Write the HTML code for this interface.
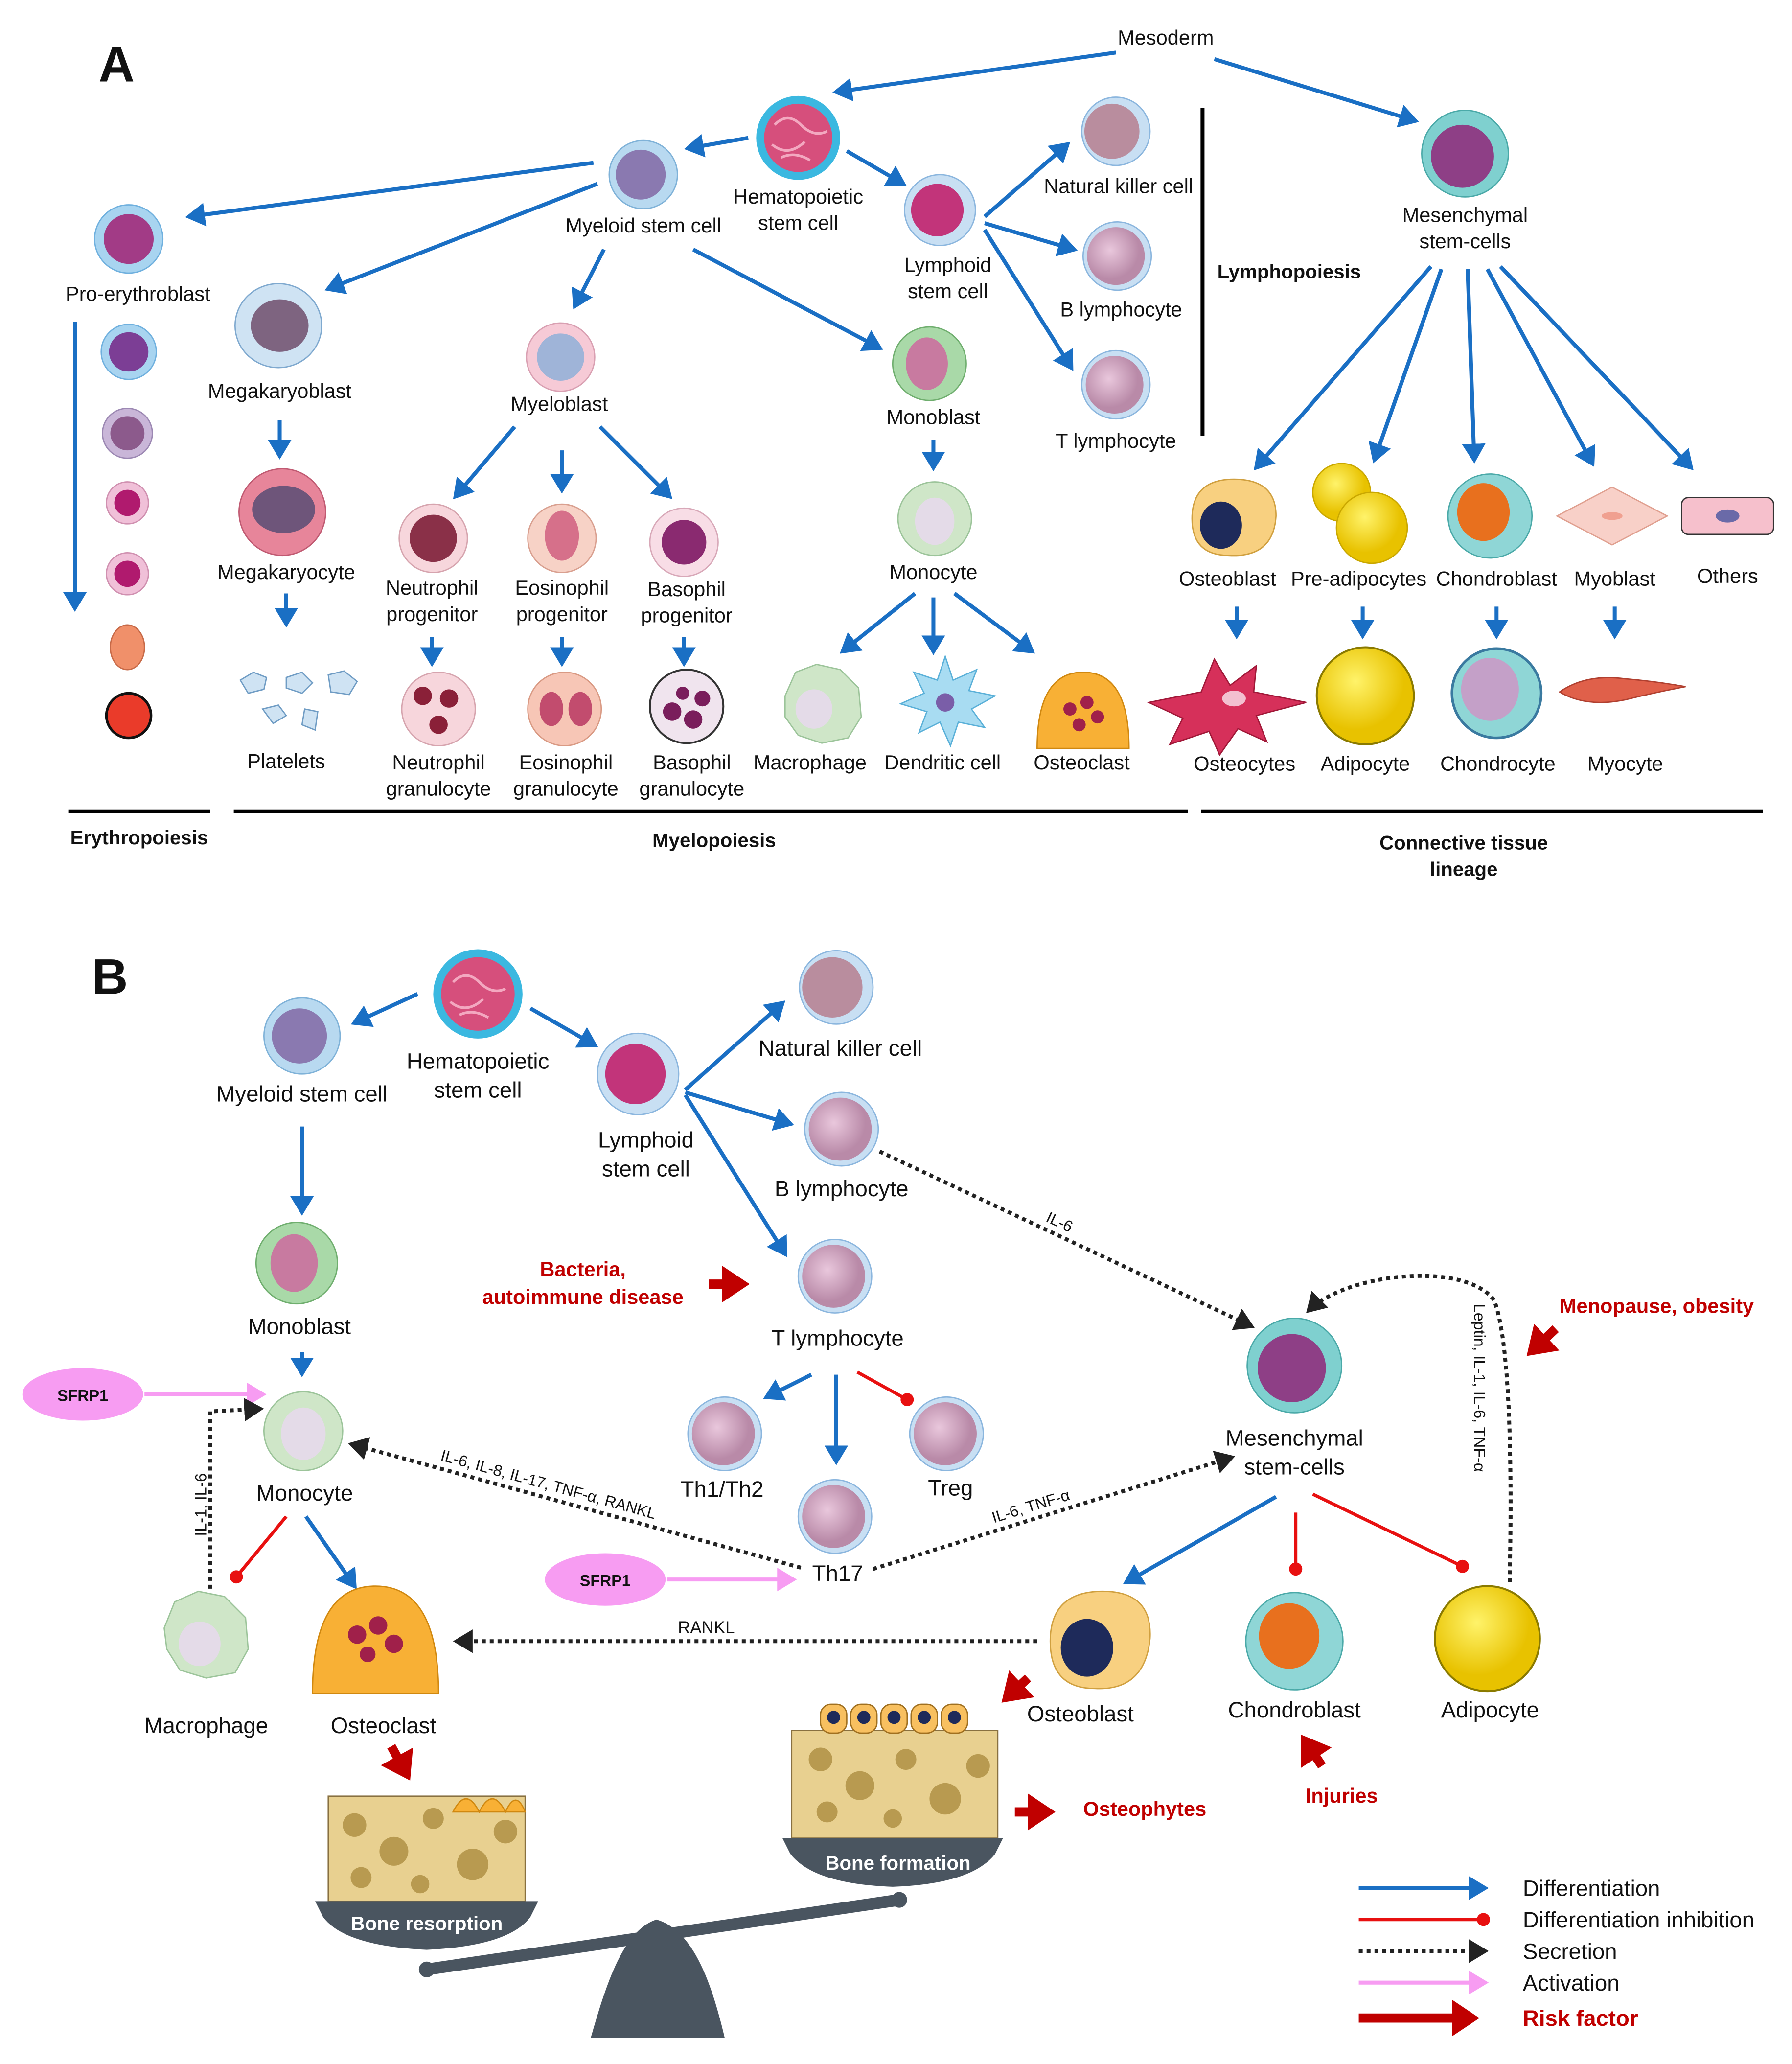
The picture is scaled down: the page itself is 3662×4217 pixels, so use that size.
<!DOCTYPE html>
<html><head><meta charset="utf-8"><style>
html,body{margin:0;padding:0;background:#fff;}
svg{display:block;}
text{font-family:"Liberation Sans",sans-serif;fill:#111;}
.l{font-size:15.5px;text-anchor:middle;}
.lb{font-size:17px;text-anchor:middle;}
.b{font-weight:bold;font-size:15px;text-anchor:middle;}
.r{font-weight:bold;font-size:15.5px;fill:#c00000;text-anchor:middle;}
.s{font-size:12px;}
.bl{stroke:#1a6fc4;stroke-width:3;fill:none;marker-end:url(#ab);}
.rd{stroke:#e81010;stroke-width:2.5;fill:none;marker-end:url(#ar);}
.dt{stroke:#222;stroke-width:3;stroke-dasharray:3 3;fill:none;marker-end:url(#ak);}
.pk{stroke:#f79cf2;stroke-width:3;fill:none;marker-end:url(#ap);}
.rk{stroke:#c00000;stroke-width:7;fill:none;marker-end:url(#ax);}
</style></head><body>
<svg width="3662" height="4217" viewBox="0 0 1365 1572" xmlns="http://www.w3.org/2000/svg">
<defs>
<marker id="ab" markerWidth="6" markerHeight="6" refX="4" refY="3" orient="auto" markerUnits="strokeWidth"><path d="M0,0 L5,3 L0,6z" fill="#1a6fc4"/></marker>
<marker id="ar" markerWidth="5" markerHeight="5" refX="2.5" refY="2.5" orient="auto" markerUnits="strokeWidth"><circle cx="2.5" cy="2.5" r="2" fill="#e81010"/></marker>
<marker id="ak" markerWidth="6" markerHeight="6" refX="4" refY="3" orient="auto" markerUnits="strokeWidth"><path d="M0,0 L5,3 L0,6z" fill="#222"/></marker>
<marker id="ap" markerWidth="6" markerHeight="6" refX="4" refY="3" orient="auto" markerUnits="strokeWidth"><path d="M0,0 L5,3 L0,6z" fill="#f79cf2"/></marker>
<marker id="ax" markerWidth="4" markerHeight="4" refX="2" refY="2" orient="auto" markerUnits="strokeWidth"><path d="M0,0 L3,2 L0,4z" fill="#c00000"/></marker>
<radialGradient id="gp" cx="40%" cy="40%"><stop offset="0" stop-color="#e9c7dc"/><stop offset="1" stop-color="#b98aa8"/></radialGradient>
<radialGradient id="gy" cx="40%" cy="35%"><stop offset="0" stop-color="#fff36a"/><stop offset="1" stop-color="#e8c200"/></radialGradient>
</defs>

<!-- ===== Panel A ===== -->
<text x="75" y="62" style="font-size:38px;font-weight:bold">A</text>
<text class="l" x="888" y="34">Mesoderm</text>
<path class="bl" d="M850,40 L637,70"/>
<path class="bl" d="M925,45 L1078,92"/>

<circle cx="608" cy="105" r="32" fill="#3bb8e0"/><circle cx="608" cy="105" r="26" fill="#d64f7c"/><path d="M590,95 q10,-10 20,0 t20,5 M588,110 q12,10 25,-2 M595,120 q10,-5 22,2" stroke="#f3a8c0" stroke-width="2" fill="none"/>
<text class="l" x="608" y="155">Hematopoietic</text><text class="l" x="608" y="175">stem cell</text>
<path class="bl" d="M570,105 L524,113"/><path class="bl" d="M645,115 L688,140"/>

<circle cx="490" cy="133" r="26" fill="#b8d9f0" stroke="#7fb2d8"/><circle cx="488" cy="133" r="19" fill="#8a79b0"/>
<text class="l" x="490" y="177">Myeloid stem cell</text>
<circle cx="716" cy="160" r="27" fill="#c8dff3" stroke="#8bb6de"/><circle cx="714" cy="160" r="20" fill="#c2347a"/>
<text class="l" x="722" y="207">Lymphoid</text><text class="l" x="722" y="227">stem cell</text>
<path class="bl" d="M750,165 L813,110"/><path class="bl" d="M750,170 L818,190"/><path class="bl" d="M750,175 L816,280"/>
<circle cx="850" cy="100" r="26" fill="#c8dff3" stroke="#8bb6de"/><circle cx="847" cy="100" r="21" fill="#b98d9e"/>
<text class="l" x="852" y="147">Natural killer cell</text>
<circle cx="851" cy="195" r="26" fill="#c8dff3" stroke="#8bb6de"/><circle cx="850" cy="195" r="22" fill="url(#gp)"/>
<text class="l" x="854" y="241">B lymphocyte</text>
<circle cx="850" cy="293" r="26" fill="#c8dff3" stroke="#8bb6de"/><circle cx="849" cy="293" r="22" fill="url(#gp)"/>
<text class="l" x="850" y="341">T lymphocyte</text>
<line x1="916" y1="82" x2="916" y2="332" stroke="#000" stroke-width="3"/>
<text class="b" x="982" y="212">Lymphopoiesis</text>

<circle cx="1116" cy="117" r="33" fill="#7fd0cf" stroke="#4aa9a8"/><circle cx="1114" cy="119" r="24" fill="#8e3f86"/>
<text class="l" x="1116" y="169">Mesenchymal</text><text class="l" x="1116" y="189">stem-cells</text>

<path class="bl" d="M452,124 L144,165"/><path class="bl" d="M455,140 L250,220"/><path class="bl" d="M460,190 L438,233"/><path class="bl" d="M528,190 L670,265"/>

<circle cx="98" cy="182" r="26" fill="#a8d4f0" stroke="#6fb0de"/><circle cx="98" cy="182" r="19" fill="#a23b86"/>
<text class="l" x="105" y="229">Pro-erythroblast</text>
<path class="bl" d="M57,245 L57,463"/>
<circle cx="98" cy="268" r="21" fill="#a8d4f0" stroke="#6fb0de"/><circle cx="98" cy="268" r="15" fill="#7c3e95"/>
<circle cx="97" cy="330" r="19" fill="#c9b6d8" stroke="#9c88b3"/><circle cx="97" cy="330" r="13" fill="#8c5a8c"/>
<circle cx="97" cy="383" r="16" fill="#f0c0d8" stroke="#d090b0"/><circle cx="97" cy="383" r="10" fill="#b01a6e"/>
<circle cx="97" cy="437" r="16" fill="#f0c0d8" stroke="#d090b0"/><circle cx="97" cy="437" r="10" fill="#b01a6e"/>
<ellipse cx="97" cy="493" rx="13" ry="17" fill="#f0906a" stroke="#c76a48"/>
<ellipse cx="98" cy="545" rx="17" ry="17" fill="#ea3b2a" stroke="#111" stroke-width="2"/>

<ellipse cx="212" cy="248" rx="33" ry="32" fill="#cfe3f3" stroke="#7fa9cf"/><ellipse cx="213" cy="248" rx="22" ry="20" fill="#7e6480"/>
<text class="l" x="213" y="303">Megakaryoblast</text>
<path class="bl" d="M213,320 L213,347"/>
<circle cx="215" cy="390" r="33" fill="#e7859a" stroke="#c05a72"/><ellipse cx="216" cy="388" rx="24" ry="18" fill="#6e557a"/>
<text class="l" x="218" y="441">Megakaryocyte</text>
<path class="bl" d="M218,452 L218,475"/>
<g fill="#cfe3f3" stroke="#6f9cc4"><path d="M183,518 l10,-6 10,4 -2,9 -12,3z"/><path d="M218,516 l12,-4 8,8 -8,8 -12,-4z"/><path d="M250,514 l12,-3 10,8 -6,10 -14,-2z"/><path d="M200,540 l12,-3 6,8 -10,6z"/><path d="M232,540 l10,2 -2,14 -10,-4z"/></g>
<text class="l" x="218" y="585">Platelets</text>

<circle cx="427" cy="272" r="26" fill="#f6cad6" stroke="#d9a0b2"/><circle cx="427" cy="272" r="18" fill="#9fb4d8"/>
<text class="l" x="426" y="313">Myeloblast</text>
<path class="bl" d="M392,325 L347,378"/><path class="bl" d="M428,343 L428,373"/><path class="bl" d="M457,325 L510,378"/>
<circle cx="330" cy="410" r="26" fill="#f7d6dc" stroke="#d6a4ae"/><circle cx="330" cy="410" r="18" fill="#8a3048"/>
<text class="l" x="329" y="453">Neutrophil</text><text class="l" x="329" y="473">progenitor</text>
<circle cx="428" cy="410" r="26" fill="#f7d2c6" stroke="#d9a090"/><ellipse cx="428" cy="408" rx="13" ry="19" fill="#d6708a"/>
<text class="l" x="428" y="453">Eosinophil</text><text class="l" x="428" y="473">progenitor</text>
<circle cx="521" cy="413" r="26" fill="#f8dde6" stroke="#d8a8b8"/><circle cx="521" cy="413" r="17" fill="#8a2a70"/>
<text class="l" x="523" y="454">Basophil</text><text class="l" x="523" y="474">progenitor</text>
<path class="bl" d="M329,485 L329,505"/><path class="bl" d="M428,485 L428,505"/><path class="bl" d="M521,485 L521,505"/>
<circle cx="334" cy="540" r="28" fill="#f7d6dc" stroke="#d6a4ae"/><g fill="#8a2038"><circle cx="322" cy="530" r="7"/><circle cx="342" cy="532" r="7"/><circle cx="334" cy="552" r="7"/></g>
<text class="l" x="334" y="586">Neutrophil</text><text class="l" x="334" y="606">granulocyte</text>
<circle cx="430" cy="540" r="28" fill="#f7c6b6" stroke="#d99a84"/><ellipse cx="420" cy="540" rx="9" ry="13" fill="#c24c6e"/><ellipse cx="442" cy="540" rx="9" ry="13" fill="#c24c6e"/>
<text class="l" x="431" y="586">Eosinophil</text><text class="l" x="431" y="606">granulocyte</text>
<circle cx="523" cy="538" r="28" fill="#f0e4ee" stroke="#333" stroke-width="1.5"/><g fill="#7a1e5c"><circle cx="512" cy="542" r="7"/><circle cx="528" cy="548" r="7"/><circle cx="535" cy="532" r="6"/><circle cx="520" cy="528" r="5"/></g>
<text class="l" x="527" y="586">Basophil</text><text class="l" x="527" y="606">granulocyte</text>

<circle cx="708" cy="277" r="28" fill="#a9d9a8" stroke="#6fae6e"/><ellipse cx="706" cy="277" rx="16" ry="20" fill="#c87aa0"/>
<text class="l" x="711" y="323">Monoblast</text>
<path class="bl" d="M711,335 L711,356"/>
<circle cx="712" cy="395" r="28" fill="#cfe6c8" stroke="#9cc49a"/><ellipse cx="712" cy="397" rx="15" ry="18" fill="#e4dbe8"/>
<text class="l" x="711" y="441">Monocyte</text>
<path class="bl" d="M697,452 L642,496"/><path class="bl" d="M711,455 L711,496"/><path class="bl" d="M727,452 L786,496"/>
<path d="M598,530 l8,-18 16,-6 18,4 14,14 2,22 -10,16 -20,4 -18,-6 -10,-14z" fill="#cfe6c8" stroke="#9cc49a"/><ellipse cx="620" cy="540" rx="14" ry="15" fill="#e4dbe8"/>
<text class="l" x="617" y="586">Macrophage</text>
<path d="M720,500 l6,18 18,-8 -6,16 20,4 -18,10 10,14 -20,-4 -6,18 -8,-18 -16,8 6,-16 -20,-6 18,-8 -8,-16 18,6z" fill="#a8dcf2" stroke="#5ab0d8"/><circle cx="720" cy="535" r="7" fill="#7a5ea8"/>
<text class="l" x="718" y="586">Dendritic cell</text>
<path d="M790,570 q0,-58 35,-58 q35,0 35,58z" fill="#f8b035" stroke="#d08810"/><g fill="#a0204a"><circle cx="815" cy="540" r="5"/><circle cx="828" cy="535" r="5"/><circle cx="836" cy="546" r="5"/><circle cx="822" cy="552" r="5"/></g>
<text class="l" x="824" y="586">Osteoclast</text>

<path class="bl" d="M1090,203 L957,356"/><path class="bl" d="M1098,205 L1047,350"/><path class="bl" d="M1118,205 L1123,350"/><path class="bl" d="M1133,205 L1213,353"/><path class="bl" d="M1143,203 L1288,356"/>
<path d="M908,395 q0,-30 32,-30 q32,0 32,28 q-2,32 -36,30 q-28,0 -28,-28z" fill="#f8d080" stroke="#d0a040"/><ellipse cx="930" cy="400" rx="16" ry="18" fill="#1e2a5a"/>
<text class="l" x="935" y="446">Osteoblast</text>
<circle cx="1022" cy="375" r="22" fill="url(#gy)" stroke="#c9a700"/><circle cx="1045" cy="402" r="27" fill="url(#gy)" stroke="#c9a700"/>
<text class="l" x="1035" y="446">Pre-adipocytes</text>
<circle cx="1135" cy="393" r="32" fill="#8fd6d6" stroke="#4aa9a8"/><ellipse cx="1130" cy="390" rx="20" ry="22" fill="#e8701e"/>
<text class="l" x="1140" y="446">Chondroblast</text>
<path d="M1186,393 l42,-22 42,22 -42,22z" fill="#f8d0c8" stroke="#e0a090"/><ellipse cx="1228" cy="393" rx="8" ry="3" fill="#f0a090"/>
<text class="l" x="1230" y="446">Myoblast</text>
<rect x="1281" y="379" width="70" height="28" rx="5" fill="#f6c0cc" stroke="#333"/><ellipse cx="1316" cy="393" rx="9" ry="5" fill="#6a6aa8"/>
<text class="l" x="1316" y="444">Others</text>
<path class="bl" d="M942,462 L942,484"/><path class="bl" d="M1038,462 L1038,484"/><path class="bl" d="M1140,462 L1140,484"/><path class="bl" d="M1230,462 L1230,484"/>
<path d="M875,535 l40,-8 10,-25 12,20 20,-15 -2,20 40,8 -38,10 8,20 -22,-10 -14,20 -8,-18 -30,10 10,-20z" fill="#d6305a" stroke="#a01838"/><ellipse cx="940" cy="532" rx="9" ry="6" fill="#f3c0d0"/>
<text class="l" x="948" y="587">Osteocytes</text>
<circle cx="1040" cy="530" r="37" fill="url(#gy)" stroke="#8a7a00" stroke-width="1.5"/>
<text class="l" x="1040" y="587">Adipocyte</text>
<circle cx="1140" cy="528" r="34" fill="#8fd6d6" stroke="#3a7aa0" stroke-width="2"/><ellipse cx="1135" cy="525" rx="22" ry="24" fill="#c4a0c8"/>
<text class="l" x="1141" y="587">Chondrocyte</text>
<path d="M1188,527 q20,-14 50,-10 q24,2 46,6 q-22,4 -46,10 q-30,6 -50,-6z" fill="#e0604a" stroke="#b04030"/>
<text class="l" x="1238" y="587">Myocyte</text>

<line x1="52" y1="618" x2="160" y2="618" stroke="#000" stroke-width="3"/>
<line x1="178" y1="618" x2="905" y2="618" stroke="#000" stroke-width="3"/>
<line x1="915" y1="618" x2="1343" y2="618" stroke="#000" stroke-width="3"/>
<text class="b" x="106" y="643">Erythropoiesis</text>
<text class="b" x="544" y="645">Myelopoiesis</text>
<text class="b" x="1115" y="647">Connective tissue</text><text class="b" x="1115" y="667">lineage</text>

<!-- ===== Panel B ===== -->
<text x="70" y="757" style="font-size:38px;font-weight:bold">B</text>
<circle cx="364" cy="757" r="34" fill="#3bb8e0"/><circle cx="364" cy="757" r="28" fill="#d64f7c"/><path d="M345,748 q10,-10 20,0 t20,5 M343,763 q12,10 25,-2 M350,773 q10,-5 22,2" stroke="#f3a8c0" stroke-width="2" fill="none"/>
<text class="lb" x="364" y="814">Hematopoietic</text><text class="lb" x="364" y="836">stem cell</text>
<circle cx="230" cy="789" r="29" fill="#b8d9f0" stroke="#7fb2d8"/><circle cx="228" cy="789" r="21" fill="#8a79b0"/>
<text class="lb" x="230" y="839">Myeloid stem cell</text>
<path class="bl" d="M318,757 L270,779"/><path class="bl" d="M404,768 L453,796"/>
<circle cx="486" cy="818" r="31" fill="#c8dff3" stroke="#8bb6de"/><circle cx="484" cy="818" r="23" fill="#c2347a"/>
<text class="lb" x="492" y="874">Lymphoid</text><text class="lb" x="492" y="896">stem cell</text>
<path class="bl" d="M522,830 L596,764"/><path class="bl" d="M522,832 L602,856"/><path class="bl" d="M522,834 L598,955"/>
<circle cx="637" cy="752" r="28" fill="#c8dff3" stroke="#8bb6de"/><circle cx="634" cy="752" r="23" fill="#b98d9e"/>
<text class="lb" x="640" y="804">Natural killer cell</text>
<circle cx="641" cy="860" r="28" fill="#c8dff3" stroke="#8bb6de"/><circle cx="640" cy="860" r="24" fill="url(#gp)"/>
<text class="lb" x="641" y="911">B lymphocyte</text>
<circle cx="636" cy="972" r="28" fill="#c8dff3" stroke="#8bb6de"/><circle cx="635" cy="972" r="24" fill="url(#gp)"/>
<text class="lb" x="638" y="1025">T lymphocyte</text>

<path class="bl" d="M230,858 L230,923"/>
<circle cx="226" cy="962" r="31" fill="#a9d9a8" stroke="#6fae6e"/><ellipse cx="224" cy="962" rx="18" ry="22" fill="#c87aa0"/>
<text class="lb" x="228" y="1016">Monoblast</text>
<path class="bl" d="M230,1030 L230,1046"/>
<circle cx="231" cy="1090" r="30" fill="#cfe6c8" stroke="#9cc49a"/><ellipse cx="231" cy="1092" rx="17" ry="20" fill="#e4dbe8"/>
<text class="lb" x="232" y="1143">Monocyte</text>
<ellipse cx="63" cy="1062" rx="46" ry="20" fill="#f79cf2"/><text x="63" y="1067" style="font-size:12px;font-weight:bold;text-anchor:middle">SFRP1</text>
<path class="pk" d="M110,1062 L200,1062"/>
<path class="rd" d="M218,1155 L180,1201"/><path class="bl" d="M233,1155 L270,1208"/>
<path d="M125,1240 l8,-20 18,-8 20,4 16,16 2,24 -10,18 -22,4 -20,-6 -10,-16z" fill="#cfe6c8" stroke="#9cc49a"/><ellipse cx="152" cy="1252" rx="16" ry="17" fill="#e4dbe8"/>
<text class="lb" x="157" y="1320">Macrophage</text>
<path d="M238,1290 q0,-82 48,-82 q48,0 48,82z" fill="#f8b035" stroke="#d08810"/><g fill="#a0204a"><circle cx="272" cy="1245" r="7"/><circle cx="288" cy="1238" r="7"/><circle cx="300" cy="1252" r="7"/><circle cx="280" cy="1260" r="6"/></g>
<text class="lb" x="292" y="1320">Osteoclast</text>
<path class="dt" d="M160,1210 L160,1075 L198,1073"/>
<text class="s" transform="translate(157,1170) rotate(-90)">IL-1, IL-6</text>

<path class="bl" d="M618,1047 L584,1064"/><path class="bl" d="M637,1047 L637,1113"/><path class="rd" d="M653,1045 L691,1066"/>
<circle cx="552" cy="1092" r="28" fill="#c8dff3" stroke="#8bb6de"/><circle cx="551" cy="1092" r="24" fill="url(#gp)"/>
<text class="lb" x="550" y="1140">Th1/Th2</text>
<circle cx="636" cy="1155" r="28" fill="#c8dff3" stroke="#8bb6de"/><circle cx="635" cy="1155" r="24" fill="url(#gp)"/>
<text class="lb" x="638" y="1204">Th17</text>
<circle cx="721" cy="1092" r="28" fill="#c8dff3" stroke="#8bb6de"/><circle cx="720" cy="1092" r="24" fill="url(#gp)"/>
<text class="lb" x="724" y="1139">Treg</text>
<ellipse cx="461" cy="1203" rx="46" ry="20" fill="#f79cf2"/><text x="461" y="1208" style="font-size:12px;font-weight:bold;text-anchor:middle">SFRP1</text>
<path class="pk" d="M508,1203 L604,1203"/>
<path class="dt" d="M610,1194 L268,1100"/>
<text class="s" transform="translate(335,1112) rotate(15.4)">IL-6, IL-8, IL-17, TNF-α, RANKL</text>
<path class="dt" d="M665,1195 L938,1110"/>
<text class="s" transform="translate(757,1160) rotate(-17)">IL-6, TNF-α</text>
<path class="dt" d="M670,877 L953,1010"/>
<text class="s" transform="translate(796,930) rotate(25)">IL-6</text>

<text class="r" x="444" y="972">Bacteria,</text><text class="r" x="444" y="993">autoimmune disease</text>
<path class="rk" d="M540,978 L564,978"/>
<text class="r" x="1262" y="1000">Menopause, obesity</text>
<path class="rk" d="M1185,1012 L1168,1028"/>

<circle cx="986" cy="1040" r="36" fill="#7fd0cf" stroke="#4aa9a8"/><circle cx="984" cy="1042" r="26" fill="#8e3f86"/>
<text class="lb" x="986" y="1101">Mesenchymal</text><text class="lb" x="986" y="1123">stem-cells</text>
<path class="dt" d="M1150,1205 C1152,1110 1150,1020 1138,990 C1115,960 1025,970 997,998"/>
<text class="s" transform="translate(1123,993) rotate(90)">Leptin, IL-1, IL-6, TNF-α</text>

<path class="bl" d="M972,1140 L858,1205"/><path class="rd" d="M987,1152 L987,1195"/><path class="rd" d="M1000,1138 L1114,1193"/>
<path d="M800,1250 q0,-38 40,-38 q38,0 36,36 q-4,40 -42,38 q-34,0 -34,-36z" fill="#f8d080" stroke="#d0a040"/><ellipse cx="828" cy="1255" rx="20" ry="22" fill="#1e2a5a"/>
<text class="lb" x="823" y="1311">Osteoblast</text>
<circle cx="986" cy="1250" r="37" fill="#8fd6d6" stroke="#4aa9a8"/><ellipse cx="982" cy="1246" rx="23" ry="25" fill="#e8701e"/>
<text class="lb" x="986" y="1308">Chondroblast</text>
<circle cx="1133" cy="1248" r="40" fill="url(#gy)" stroke="#8a7a00" stroke-width="1.5"/>
<text class="lb" x="1135" y="1308">Adipocyte</text>
<path class="dt" d="M790,1250 L348,1250"/>
<text x="538" y="1244" style="font-size:13px;text-anchor:middle">RANKL</text>

<path class="rk" d="M783,1278 L768,1292"/>
<text class="r" x="872" y="1383">Osteophytes</text>
<path class="rk" d="M773,1380 L797,1380"/>
<text class="r" x="1022" y="1373">Injuries</text>
<path class="rk" d="M1007,1345 L995,1327"/>
<path class="rk" d="M298,1330 L309,1350"/>

<rect x="250" y="1368" width="150" height="80" fill="#e8d090" stroke="#887040"/>
<g fill="#b89a50"><circle cx="270" cy="1390" r="9"/><circle cx="300" cy="1410" r="11"/><circle cx="330" cy="1385" r="8"/><circle cx="360" cy="1420" r="12"/><circle cx="385" cy="1395" r="9"/><circle cx="275" cy="1430" r="8"/><circle cx="320" cy="1435" r="7"/></g>
<path d="M345,1380 q10,-20 20,0 q10,-20 20,0 q8,-18 15,0z" fill="#f8b035" stroke="#d08810"/>
<rect x="603" y="1318" width="157" height="82" fill="#e8d090" stroke="#887040"/>
<g fill="#b89a50"><circle cx="625" cy="1340" r="9"/><circle cx="655" cy="1360" r="11"/><circle cx="690" cy="1340" r="8"/><circle cx="720" cy="1370" r="12"/><circle cx="745" cy="1345" r="9"/><circle cx="630" cy="1380" r="8"/><circle cx="680" cy="1385" r="7"/></g>
<g fill="#f8c060" stroke="#a07020"><rect x="625" y="1298" width="20" height="22" rx="8"/><rect x="648" y="1298" width="20" height="22" rx="8"/><rect x="671" y="1298" width="20" height="22" rx="8"/><rect x="694" y="1298" width="20" height="22" rx="8"/><rect x="717" y="1298" width="20" height="22" rx="8"/></g>
<g fill="#1e2a5a"><circle cx="635" cy="1308" r="5"/><circle cx="658" cy="1308" r="5"/><circle cx="681" cy="1308" r="5"/><circle cx="704" cy="1308" r="5"/><circle cx="727" cy="1308" r="5"/></g>
<path d="M596,1400 L764,1400 L758,1412 Q740,1435 680,1437 Q620,1435 602,1412z" fill="#4a5560"/>
<text x="684" y="1424" style="font-size:15px;font-weight:bold;fill:#fff;text-anchor:middle">Bone formation</text>
<path d="M240,1448 L410,1448 L404,1460 Q388,1482 325,1485 Q262,1482 246,1460z" fill="#4a5560"/>
<text x="325" y="1470" style="font-size:15px;font-weight:bold;fill:#fff;text-anchor:middle">Bone resorption</text>
<line x1="325" y1="1500" x2="685" y2="1447" stroke="#4a5560" stroke-width="9"/>
<circle cx="325" cy="1500" r="6" fill="#4a5560"/><circle cx="685" cy="1447" r="6" fill="#4a5560"/>
<path d="M500,1462 C475,1470 462,1510 450,1552 L552,1552 C542,1510 528,1470 500,1462z" fill="#4a5560"/>

<path class="bl" d="M1035,1438 L1131,1438"/><text x="1160" y="1444" style="font-size:17px">Differentiation</text>
<path class="rd" d="M1035,1462 L1130,1462"/><text x="1160" y="1468" style="font-size:17px">Differentiation inhibition</text>
<path class="dt" d="M1035,1486 L1131,1486"/><text x="1160" y="1492" style="font-size:17px">Secretion</text>
<path class="pk" d="M1035,1510 L1131,1510"/><text x="1160" y="1516" style="font-size:17px">Activation</text>
<path class="rk" d="M1035,1537 L1120,1537"/><text x="1160" y="1543" style="font-size:17px;font-weight:bold;fill:#c00000">Risk factor</text>
</svg>
</body></html>
